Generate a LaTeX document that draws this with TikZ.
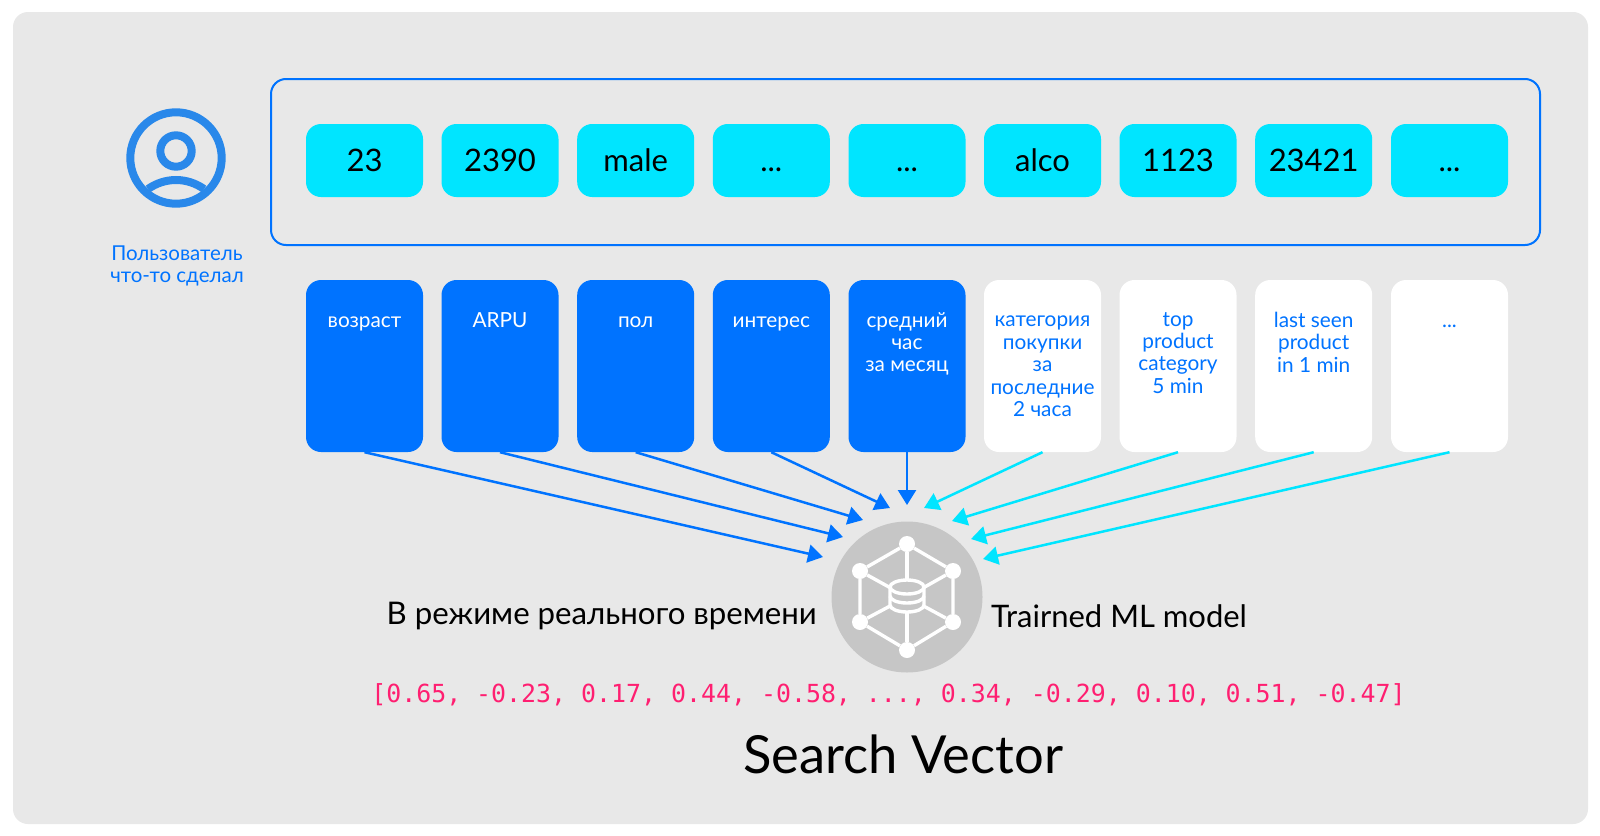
\documentclass[tikz,border=0pt]{standalone}
\usepackage{fontspec}
\setmainfont{Lato}
\setmonofont{DejaVu Sans Mono}
\usetikzlibrary{arrows.meta}
\definecolor{panelgray}{HTML}{E8E8E8}
\definecolor{hubgray}{HTML}{C6C6C6}
\definecolor{chipcyan}{HTML}{00E5FF}
\definecolor{cardblue}{HTML}{0073FF}
\definecolor{iconblue}{HTML}{2988EA}
\definecolor{vecpink}{HTML}{FF1F71}

\begin{document}
\begin{tikzpicture}[x=1pt, y=-1pt]
		\tikzstyle{every node}=[inner sep=0pt, align=center]
		\tikzstyle{chip}=[fill=chipcyan, rounded corners=15pt, minimum width=117pt, minimum height=73pt, text height=22pt, text depth=0pt, font=\fontsize{31}{31}\selectfont]
		\tikzstyle{bluecard}=[fill=cardblue, rounded corners=15pt, minimum width=117pt, minimum height=172pt]
		\tikzstyle{whitecard}=[fill=white, rounded corners=15pt, minimum width=117pt, minimum height=172pt]
		\tikzstyle{bluetext}=[anchor=north, text=white, font=\fontsize{20.8}{22.4}\selectfont, execute at begin node=\strut]
		\tikzstyle{whitetext}=[anchor=north, text=cardblue, font=\fontsize{20.8}{22.4}\selectfont, execute at begin node=\strut]
		\tikzstyle{bluearrow}=[-{Triangle[length=15pt, width=18pt]}, cardblue, line width=2.5pt]
		\tikzstyle{cyanarrow}=[-{Triangle[length=15pt, width=18pt]}, chipcyan, line width=2.5pt]
		\tikzstyle{hexdot}=[circle, fill=white, minimum size=16pt]
		\tikzstyle{hexline}=[white, line width=3.4pt]
		\useasboundingbox (0, 0) rectangle (1600, 835);
		\fill [white] (0, 0) rectangle (1600, 835);
		\fill [panelgray, rounded corners=15pt] (13, 12) rectangle (1588, 824);
		\draw [cardblue, line width=2pt, rounded corners=15pt] (271, 79) rectangle (1540, 245);

		\draw [iconblue, line width=8pt] (176, 158) circle (45.7);
		\draw [iconblue, line width=8pt] (176, 151) circle (15.7);
		\draw [iconblue, line width=8pt] (148, 189) .. controls (165, 177) and (187, 177) .. (204, 189);
		\node (user) at (177, 266) [text=cardblue, font=\fontsize{20.5}{22.4}\selectfont] {Пользователь\\что-то сделал};

		\node (chip1) at (364.5, 160.5) [chip] {23};
		\node (chip2) at (500, 160.5) [chip] {2390};
		\node (chip3) at (635.7, 160.5) [chip] {male};
		\node (chip4) at (771.3, 160.5) [chip] {...};
		\node (chip5) at (907, 160.5) [chip] {...};
		\node (chip6) at (1042.5, 160.5) [chip] {alco};
		\node (chip7) at (1178, 160.5) [chip] {1123};
		\node (chip8) at (1313.7, 160.5) [chip] {23421};
		\node (chip9) at (1449.5, 160.5) [chip] {...};

		\node (card1) at (364.5, 366) [bluecard] {};
		\node (card2) at (500, 366) [bluecard] {};
		\node (card3) at (635.7, 366) [bluecard] {};
		\node (card4) at (771.3, 366) [bluecard] {};
		\node (card5) at (907, 366) [bluecard] {};
		\node (card6) at (1042.5, 366) [whitecard] {};
		\node (card7) at (1178, 366) [whitecard] {};
		\node (card8) at (1313.7, 366) [whitecard] {};
		\node (card9) at (1449.5, 366) [whitecard] {};

		\node (text1) at (364.5, 312) [bluetext] {возраст};
		\node (text2) at (500, 312) [bluetext] {ARPU};
		\node (text3) at (635.7, 312) [bluetext] {пол};
		\node (text4) at (771.3, 312) [bluetext] {интерес};
		\node (text5) at (907, 312) [bluetext] {средний\\час\\за месяц};
		\node (text6) at (1042.5, 316) [whitetext] {категория\\покупки\\за\\последние\\2 часа};
		\node (text7) at (1178, 312) [whitetext] {top\\product\\category\\5 min};
		\node (text8) at (1313.7, 312) [whitetext] {last seen\\product\\in 1 min};
		\node (text9) at (1449.5, 312) [whitetext] {...};

		\node (hub) at (907, 597) [circle, fill=hubgray, minimum size=151pt] {};
		\node (hextop) at (907, 544) [hexdot] {};
		\node (hexul) at (860, 571) [hexdot] {};
		\node (hexur) at (953, 571) [hexdot] {};
		\node (hexll) at (860, 622) [hexdot] {};
		\node (hexlr) at (953, 622) [hexdot] {};
		\node (hexbot) at (907, 650) [hexdot] {};
		\draw [hexline] (hextop) -- (hexur) -- (hexlr) -- (hexbot) -- (hexll) -- (hexul) -- (hextop);
		\draw [hexline] (hextop) -- (hub.center);
		\draw [hexline] (hexbot) -- (hub.center);
		\draw [hexline] (hexul) -- (hub.center);
		\draw [hexline] (hexur) -- (hub.center);
		\draw [hexline] (hexll) -- (hub.center);
		\draw [hexline] (hexlr) -- (hub.center);
		\draw [hexline, fill=hubgray] (890, 587) -- (890, 605) arc (180:0:17 and 7) -- (924, 587) arc (0:-180:17 and 7) -- cycle;
		\draw [hexline] (890, 587) arc (180:0:17 and 7);
		\draw [hexline] (890, 596) arc (180:0:17 and 7);

		\coordinate (tip1) at (823, 557);
		\coordinate (tip2) at (843, 537);
		\coordinate (tip3) at (863, 520);
		\coordinate (tip4) at (890, 508);
		\coordinate (tip5) at (907, 505);
		\coordinate (tip6) at (924, 508);
		\coordinate (tip7) at (952, 521);
		\coordinate (tip8) at (971, 539);
		\coordinate (tip9) at (983, 559);
		\draw [bluearrow] (card1.south) -- (tip1);
		\draw [bluearrow] (card2.south) -- (tip2);
		\draw [bluearrow] (card3.south) -- (tip3);
		\draw [bluearrow] (card4.south) -- (tip4);
		\draw [bluearrow] (card5.south) -- (tip5);
		\draw [cyanarrow] (card6.south) -- (tip6);
		\draw [cyanarrow] (card7.south) -- (tip7);
		\draw [cyanarrow] (card8.south) -- (tip8);
		\draw [cyanarrow] (card9.south) -- (tip9);

		\node (realtime) at (817, 616) [anchor=east, font=\fontsize{31.2}{31}\selectfont] {В режиме реального времени};
		\node (trained) at (991, 616) [anchor=west, font=\fontsize{31}{31}\selectfont] {Trairned ML model};
		\node (vector) at (888.5, 695) [text=vecpink, font=\ttfamily\fontsize{24.9}{25}\selectfont] {[0.65, -0.23, 0.17, 0.44, -0.58, ..., 0.34, -0.29, 0.10, 0.51, -0.47]};
		\node (search) at (903, 754) [font=\fontsize{52.5}{52}\selectfont] {Search Vector};
\end{tikzpicture}
\end{document}
